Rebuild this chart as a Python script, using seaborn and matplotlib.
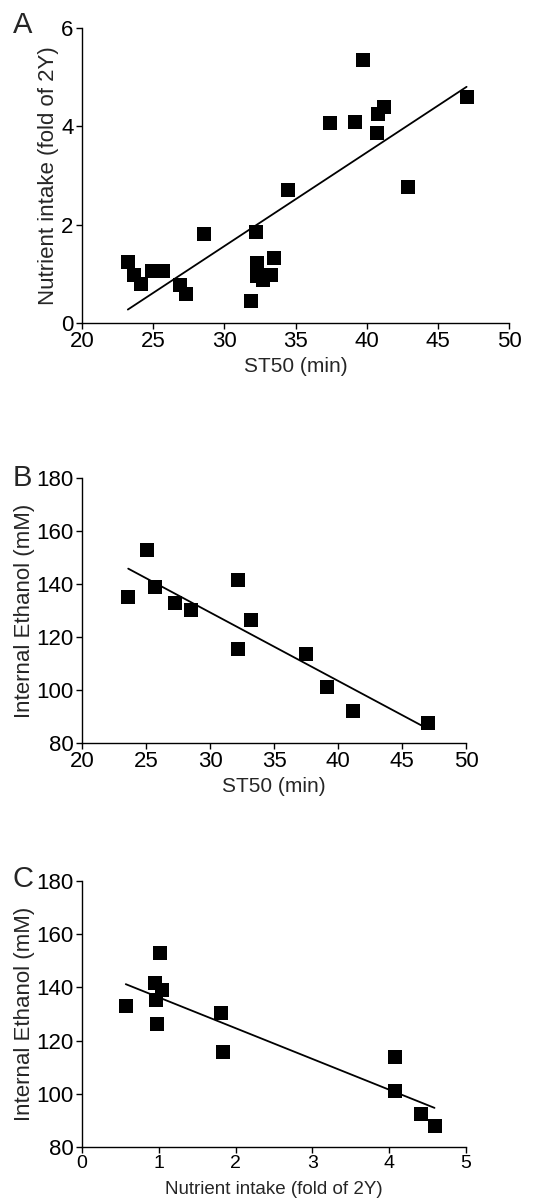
import numpy as np
import pandas as pd
import matplotlib
matplotlib.use("Agg")
import matplotlib.pyplot as plt
import seaborn as sns

# ---------------- data ----------------
# Panel A: ST50 (min) vs nutrient intake (fold of 2Y)
a_st50 = [23.22, 23.64, 24.15, 24.93, 25.70, 26.89, 27.30, 28.56,
          31.86, 32.22, 32.31, 32.27, 32.71, 33.27, 33.48, 34.46,
          37.43, 39.20, 39.72, 40.70, 40.80, 41.22, 42.89, 47.02]
a_intake = [1.24, 0.98, 0.80, 1.05, 1.06, 0.78, 0.58, 1.81,
            0.44, 1.85, 1.22, 0.95, 0.88, 0.98, 1.33, 2.70,
            4.06, 4.08, 5.34, 3.86, 4.25, 4.40, 2.76, 4.59]

# Panel B: ST50 (min) vs internal ethanol (mM)
b_st50 = [23.61, 25.04, 25.69, 27.25, 28.55, 32.19, 32.19, 33.23,
          37.47, 39.16, 41.19, 47.00]
b_ethanol = [135.2, 152.8, 139.0, 132.7, 130.2, 141.5, 115.6, 126.4,
             113.5, 101.0, 92.0, 87.5]

# Panel C: nutrient intake vs internal ethanol (mM)
c_intake = [0.57, 0.95, 0.96, 0.98, 1.02, 1.04, 1.81, 1.84,
            4.07, 4.08, 4.42, 4.59]
c_ethanol = [132.9, 141.5, 135.2, 126.4, 153.0, 139.0, 130.2, 115.8,
             113.9, 101.1, 92.3, 87.8]

st50_ticks = [20, 25, 30, 35, 40, 45, 50]
intake_ticks = [0, 2, 4, 6]
ethanol_ticks = [80, 100, 120, 140, 160, 180]
intake_ticks_c = [0, 1, 2, 3, 4, 5]

# ---------------- style ----------------
sns.set_style("ticks")
plt.rcParams['font.family'] = ['Liberation Sans', 'DejaVu Sans']
plt.rcParams['axes.linewidth'] = 1.0
plt.rcParams['xtick.major.width'] = 1.0
plt.rcParams['ytick.major.width'] = 1.0
plt.rcParams['xtick.major.size'] = 4
plt.rcParams['ytick.major.size'] = 4
plt.rcParams['xtick.color'] = 'black'
plt.rcParams['ytick.color'] = 'black'
plt.rcParams['axes.edgecolor'] = 'black'

W, H = 544, 1203
fig = plt.figure(figsize=(W / 100, H / 100), dpi=100)

def px_axes(left, top, right, bottom):
    return fig.add_axes([left / W, 1 - bottom / H, (right - left) / W, (bottom - top) / H])

axA = px_axes(82, 28, 509, 323)
axB = px_axes(82, 478, 466, 743)
axC = px_axes(82, 881, 466, 1147)

sc_kws = dict(s=105, linewidths=0, alpha=1, clip_on=False, zorder=3)
ln_kws = dict(lw=1.3, color='black', zorder=4)

dfA = pd.DataFrame({'ST50': a_st50, 'Intake': a_intake})
dfB = pd.DataFrame({'ST50': b_st50, 'Ethanol': b_ethanol})
dfC = pd.DataFrame({'Intake': c_intake, 'Ethanol': c_ethanol})

sns.regplot(data=dfA, x='ST50', y='Intake', ax=axA, ci=None, marker='s',
            color='black', scatter_kws=sc_kws, line_kws=ln_kws, truncate=True)
sns.regplot(data=dfB, x='ST50', y='Ethanol', ax=axB, ci=None, marker='s',
            color='black', scatter_kws=sc_kws, line_kws=ln_kws, truncate=True)
sns.regplot(data=dfC, x='Intake', y='Ethanol', ax=axC, ci=None, marker='s',
            color='black', scatter_kws=sc_kws, line_kws=ln_kws, truncate=True)

# Panel A axes
axA.set_xlim(20, 50)
axA.set_ylim(0, 6)
axA.set_xticks(st50_ticks)
axA.set_yticks(intake_ticks)
axA.tick_params(labelsize=16, pad=2)
axA.set_xlabel('ST50 (min)', fontsize=15, labelpad=3)
axA.set_ylabel('Nutrient intake (fold of 2Y)', fontsize=16, labelpad=2)

# Panel B axes
axB.set_xlim(20, 50)
axB.set_ylim(80, 180)
axB.set_xticks(st50_ticks)
axB.set_yticks(ethanol_ticks)
axB.tick_params(labelsize=16, pad=2)
axB.set_xlabel('ST50 (min)', fontsize=15, labelpad=3)
axB.set_ylabel('Internal Ethanol (mM)', fontsize=16, labelpad=1)

# Panel C axes
axC.set_xlim(0, 5)
axC.set_ylim(80, 180)
axC.set_xticks(intake_ticks_c)
axC.set_yticks(ethanol_ticks)
axC.tick_params(axis='y', labelsize=16, pad=2)
axC.tick_params(axis='x', labelsize=14, pad=2)
axC.set_xlabel('Nutrient intake (fold of 2Y)', fontsize=13.5, labelpad=6)
axC.set_ylabel('Internal Ethanol (mM)', fontsize=16, labelpad=1)

for ax in (axA, axB, axC):
    sns.despine(ax=ax)
    ax.margins(0)

fig.text(13 / W, 1 - 33 / H, 'A', fontsize=21, ha='left', va='baseline')
fig.text(13 / W, 1 - 486 / H, 'B', fontsize=21, ha='left', va='baseline')
fig.text(13 / W, 1 - 887 / H, 'C', fontsize=21, ha='left', va='baseline')

fig.savefig('out.png', dpi=100, facecolor='white')
